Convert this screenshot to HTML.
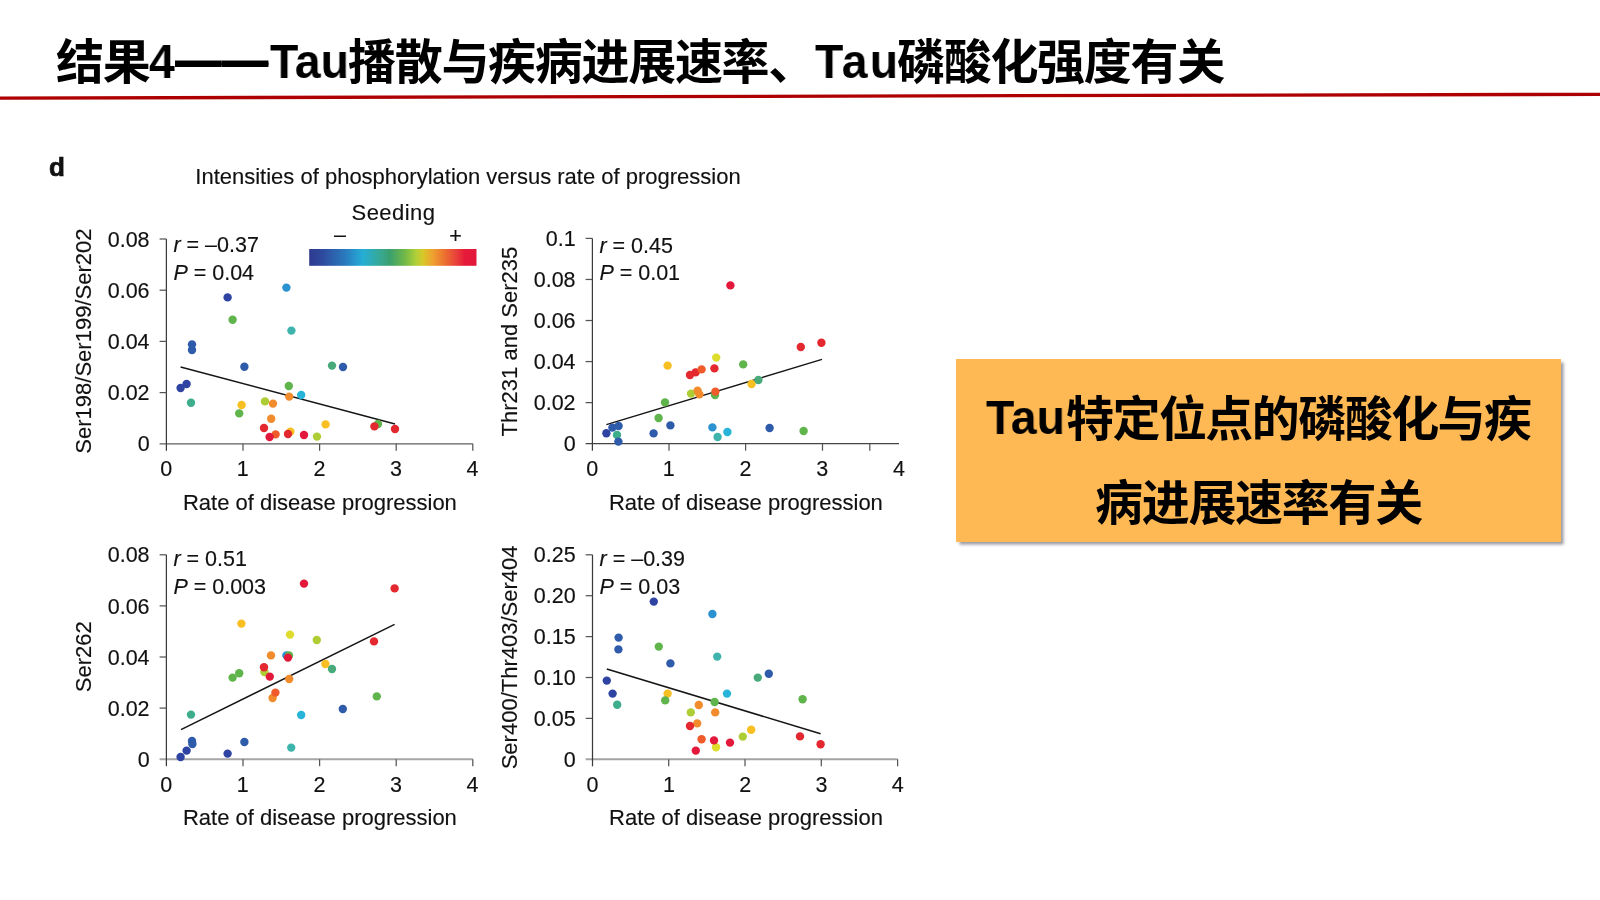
<!DOCTYPE html>
<html><head><meta charset="utf-8">
<style>
html,body{margin:0;padding:0;background:#fff;}
body{width:1600px;height:900px;position:relative;overflow:hidden;}
.title{position:absolute;left:56px;top:28px;font-family:"Liberation Sans","Noto Sans CJK SC",sans-serif;font-weight:bold;font-size:46.7px;line-height:64px;color:#000;white-space:nowrap;letter-spacing:0px;}
.cj{font-size:48px!important;letter-spacing:-1.3px;top:31px!important;}
.lt{font-size:48px!important;transform:scaleX(0.965);transform-origin:0 0;top:29.5px!important;}
svg{position:absolute;left:0;top:0;will-change:transform;}
.title{will-change:transform;}
.box{position:absolute;left:956px;top:359px;width:605px;height:183px;background:#ffb954;box-shadow:2.5px 2.5px 3px rgba(80,80,100,0.6);}
.box div{position:absolute;left:0;width:605px;text-align:center;font-family:"Liberation Sans","Noto Sans CJK SC",sans-serif;font-weight:bold;font-size:46.5px;color:#000;white-space:nowrap;}
</style></head><body>
<div class="title cj" style="left:56px">结果</div><div class="title lt" style="left:149px">4</div><div class="title" style="left:175.3px;top:27px;font-size:46.7px;text-shadow:0 1.6px 0 #000">——</div><div class="title lt" style="left:269.5px">Tau</div><div class="title cj" style="left:347.5px">播散与疾病进展速率、</div><div class="title lt" style="left:815px;letter-spacing:2.1px">Tau</div><div class="title cj" style="left:896.5px">磷酸化强度有关</div>
<svg width="1600" height="900" viewBox="0 0 1600 900">
<defs>
<linearGradient id="cb" x1="0" x2="1" y1="0" y2="0">
<stop offset="0" stop-color="#2e3a8e"/><stop offset="0.08" stop-color="#2e4a9e"/><stop offset="0.22" stop-color="#2a7cc0"/>
<stop offset="0.32" stop-color="#25aed6"/><stop offset="0.43" stop-color="#38a890"/><stop offset="0.48" stop-color="#3aa070"/>
<stop offset="0.57" stop-color="#70b848"/><stop offset="0.64" stop-color="#b0d038"/><stop offset="0.68" stop-color="#d8c828"/>
<stop offset="0.74" stop-color="#eea030"/><stop offset="0.81" stop-color="#ec7030"/><stop offset="0.88" stop-color="#e8403a"/>
<stop offset="0.93" stop-color="#e61a3a"/><stop offset="1" stop-color="#e0183a"/>
</linearGradient>
</defs>
<path d="M0 98.1L1600 94.3" stroke="#ae0000" stroke-width="3.3"/>
<g font-family="Liberation Sans, Arial, sans-serif" font-size="21.5" fill="#111" stroke="#111" stroke-width="0.15">
<text x="49" y="176.2" font-weight="bold" font-size="26" stroke-width="0.7">d</text>
<text x="468" y="184.4" text-anchor="middle" font-size="22">Intensities of phosphorylation versus rate of progression</text>
<text x="393.5" y="219.8" text-anchor="middle" font-size="22" letter-spacing="0.45">Seeding</text>
<text x="340" y="242" text-anchor="middle">&#8211;</text>
<text x="455.5" y="243" text-anchor="middle">+</text>
<rect x="309.2" y="249" width="167.3" height="16.8" fill="url(#cb)" stroke="none"/>
<path d="M180.6 367L395 424" stroke="#151515" stroke-width="1.5"/>
<path d="M159.6 443.8H472.79999999999995" stroke="#5e5e5e" stroke-width="1.3" fill="none"/>
<path d="M166.4 239V450.8" stroke="#3a3a3a" stroke-width="1.25" fill="none"/>
<path d="M159.6 239.0H166.4" stroke="#555" stroke-width="1.25"/>
<text x="149.6" y="246.6" text-anchor="end">0.08</text>
<path d="M159.6 290.2H166.4" stroke="#555" stroke-width="1.25"/>
<text x="149.6" y="297.8" text-anchor="end">0.06</text>
<path d="M159.6 341.4H166.4" stroke="#555" stroke-width="1.25"/>
<text x="149.6" y="349.0" text-anchor="end">0.04</text>
<path d="M159.6 392.6H166.4" stroke="#555" stroke-width="1.25"/>
<text x="149.6" y="400.20000000000005" text-anchor="end">0.02</text>
<text x="149.6" y="451.40000000000003" text-anchor="end">0</text>
<path d="M243.0 443.8V450.8" stroke="#555" stroke-width="1.25"/>
<path d="M319.6 443.8V450.8" stroke="#555" stroke-width="1.25"/>
<path d="M396.2 443.8V450.8" stroke="#555" stroke-width="1.25"/>
<path d="M472.8 443.8V450.8" stroke="#555" stroke-width="1.25"/>
<text x="166.2" y="476.3" text-anchor="middle">0</text>
<text x="242.8" y="476.3" text-anchor="middle">1</text>
<text x="319.4" y="476.3" text-anchor="middle">2</text>
<text x="396.0" y="476.3" text-anchor="middle">3</text>
<text x="472.6" y="476.3" text-anchor="middle">4</text>
<text x="319.9" y="509.5" text-anchor="middle" font-size="22">Rate of disease progression</text>
<text transform="translate(90.5 341.1) rotate(-90)" text-anchor="middle" font-size="22">Ser198/Ser199/Ser202</text>
<text x="173.4" y="252.3"><tspan font-style="italic">r</tspan> = &#8211;0.37</text>
<text x="173.4" y="280.2"><tspan font-style="italic">P</tspan> = 0.04</text>
<circle cx="286.4" cy="287.6" r="4.2" fill="#2a92d0" stroke="none"/>
<circle cx="227.6" cy="297.4" r="4.2" fill="#2f43a2" stroke="none"/>
<circle cx="232.6" cy="319.8" r="4.2" fill="#5fb44b" stroke="none"/>
<circle cx="291.4" cy="330.6" r="4.2" fill="#3fb4ad" stroke="none"/>
<circle cx="192" cy="344.4" r="4.2" fill="#2f5bab" stroke="none"/>
<circle cx="192" cy="350" r="4.2" fill="#2f5bab" stroke="none"/>
<circle cx="244.4" cy="366.8" r="4.2" fill="#2f5bab" stroke="none"/>
<circle cx="332" cy="365.6" r="4.2" fill="#48aa7a" stroke="none"/>
<circle cx="343" cy="367" r="4.2" fill="#2f5bab" stroke="none"/>
<circle cx="186.6" cy="384" r="4.2" fill="#2f43a2" stroke="none"/>
<circle cx="180.6" cy="388" r="4.2" fill="#2f43a2" stroke="none"/>
<circle cx="288.8" cy="386" r="4.2" fill="#5fb44b" stroke="none"/>
<circle cx="301.2" cy="395" r="4.2" fill="#27b4d8" stroke="none"/>
<circle cx="289.2" cy="396.6" r="4.2" fill="#f28b2c" stroke="none"/>
<circle cx="191" cy="402.8" r="4.2" fill="#3dad8c" stroke="none"/>
<circle cx="241.6" cy="405" r="4.2" fill="#f7bf22" stroke="none"/>
<circle cx="265" cy="401.4" r="4.2" fill="#aecd35" stroke="none"/>
<circle cx="273" cy="403.6" r="4.2" fill="#f28b2c" stroke="none"/>
<circle cx="239.2" cy="413.4" r="4.2" fill="#5fb44b" stroke="none"/>
<circle cx="271.2" cy="418.8" r="4.2" fill="#f28b2c" stroke="none"/>
<circle cx="264" cy="428" r="4.2" fill="#e4282f" stroke="none"/>
<circle cx="290.4" cy="431.6" r="4.2" fill="#f7bf22" stroke="none"/>
<circle cx="288" cy="434" r="4.2" fill="#e4282f" stroke="none"/>
<circle cx="275.6" cy="434.4" r="4.2" fill="#ef5b2b" stroke="none"/>
<circle cx="269.6" cy="437" r="4.2" fill="#e2193b" stroke="none"/>
<circle cx="304" cy="435" r="4.2" fill="#e2193b" stroke="none"/>
<circle cx="317" cy="436.6" r="4.2" fill="#aecd35" stroke="none"/>
<circle cx="325.6" cy="424.4" r="4.2" fill="#f7bf22" stroke="none"/>
<circle cx="378" cy="424" r="4.2" fill="#5fb44b" stroke="none"/>
<circle cx="374.4" cy="426.4" r="4.2" fill="#e4282f" stroke="none"/>
<circle cx="395" cy="429" r="4.2" fill="#e4282f" stroke="none"/>
<path d="M606.4 424.6L822 359.4" stroke="#151515" stroke-width="1.5"/>
<path d="M585.6 443.7H899.0" stroke="#444444" stroke-width="1.3" fill="none"/>
<path d="M592.4 238.4V450.7" stroke="#3a3a3a" stroke-width="1.25" fill="none"/>
<path d="M585.6 238.4H592.4" stroke="#555" stroke-width="1.25"/>
<text x="575.6" y="246.0" text-anchor="end">0.1</text>
<path d="M585.6 279.46000000000004H592.4" stroke="#555" stroke-width="1.25"/>
<text x="575.6" y="287.06000000000006" text-anchor="end">0.08</text>
<path d="M585.6 320.52H592.4" stroke="#555" stroke-width="1.25"/>
<text x="575.6" y="328.12" text-anchor="end">0.06</text>
<path d="M585.6 361.58000000000004H592.4" stroke="#555" stroke-width="1.25"/>
<text x="575.6" y="369.18000000000006" text-anchor="end">0.04</text>
<path d="M585.6 402.64H592.4" stroke="#555" stroke-width="1.25"/>
<text x="575.6" y="410.24" text-anchor="end">0.02</text>
<text x="575.6" y="451.30000000000007" text-anchor="end">0</text>
<path d="M669.0 443.7V450.7" stroke="#555" stroke-width="1.25"/>
<path d="M745.6 443.7V450.7" stroke="#555" stroke-width="1.25"/>
<path d="M822.5 443.7V450.7" stroke="#555" stroke-width="1.25"/>
<path d="M869.8 443.7V450.7" stroke="#555" stroke-width="1.25"/>
<text x="592.2" y="476.2" text-anchor="middle">0</text>
<text x="668.8" y="476.2" text-anchor="middle">1</text>
<text x="745.4" y="476.2" text-anchor="middle">2</text>
<text x="822.2" y="476.2" text-anchor="middle">3</text>
<text x="899.0" y="476.2" text-anchor="middle">4</text>
<text x="745.9" y="509.5" text-anchor="middle" font-size="22">Rate of disease progression</text>
<text transform="translate(516.5 341.6) rotate(-90)" text-anchor="middle" font-size="22">Thr231 and Ser235</text>
<text x="599.4" y="252.5"><tspan font-style="italic">r</tspan> = 0.45</text>
<text x="599.4" y="280.3"><tspan font-style="italic">P</tspan> = 0.01</text>
<circle cx="730.4" cy="285.4" r="4.2" fill="#e2193b" stroke="none"/>
<circle cx="821.4" cy="342.8" r="4.2" fill="#e4282f" stroke="none"/>
<circle cx="800.8" cy="347" r="4.2" fill="#e4282f" stroke="none"/>
<circle cx="716.2" cy="357.6" r="4.2" fill="#dedc2c" stroke="none"/>
<circle cx="743.2" cy="364.4" r="4.2" fill="#5fb44b" stroke="none"/>
<circle cx="667.6" cy="365.6" r="4.2" fill="#f7bf22" stroke="none"/>
<circle cx="690" cy="375" r="4.2" fill="#e4282f" stroke="none"/>
<circle cx="695.6" cy="372.4" r="4.2" fill="#e4282f" stroke="none"/>
<circle cx="701.6" cy="369.4" r="4.2" fill="#ef5b2b" stroke="none"/>
<circle cx="714.4" cy="368.4" r="4.2" fill="#e4282f" stroke="none"/>
<circle cx="751.6" cy="384" r="4.2" fill="#f7bf22" stroke="none"/>
<circle cx="758.4" cy="380" r="4.2" fill="#48aa7a" stroke="none"/>
<circle cx="691" cy="393.6" r="4.2" fill="#aecd35" stroke="none"/>
<circle cx="699.4" cy="394.4" r="4.2" fill="#f28b2c" stroke="none"/>
<circle cx="697.6" cy="390.6" r="4.2" fill="#f28b2c" stroke="none"/>
<circle cx="715" cy="395" r="4.2" fill="#5fb44b" stroke="none"/>
<circle cx="715.4" cy="391.6" r="4.2" fill="#ef5b2b" stroke="none"/>
<circle cx="665" cy="402.4" r="4.2" fill="#5fb44b" stroke="none"/>
<circle cx="658.6" cy="418" r="4.2" fill="#5fb44b" stroke="none"/>
<circle cx="670.4" cy="425.4" r="4.2" fill="#2f5bab" stroke="none"/>
<circle cx="606.4" cy="433.2" r="4.2" fill="#2f43a2" stroke="none"/>
<circle cx="612.4" cy="427.6" r="4.2" fill="#2f5bab" stroke="none"/>
<circle cx="618.6" cy="426" r="4.2" fill="#2f5bab" stroke="none"/>
<circle cx="617" cy="435" r="4.2" fill="#3dad8c" stroke="none"/>
<circle cx="618.4" cy="441.6" r="4.2" fill="#2f5bab" stroke="none"/>
<circle cx="653.6" cy="433.4" r="4.2" fill="#2f5bab" stroke="none"/>
<circle cx="712.4" cy="427.4" r="4.2" fill="#2a92d0" stroke="none"/>
<circle cx="727.4" cy="432" r="4.2" fill="#27b4d8" stroke="none"/>
<circle cx="717.6" cy="437" r="4.2" fill="#3fb4ad" stroke="none"/>
<circle cx="769.6" cy="428" r="4.2" fill="#2f5bab" stroke="none"/>
<circle cx="803.6" cy="431" r="4.2" fill="#5fb44b" stroke="none"/>
<path d="M181 729.6L394.6 624.4" stroke="#151515" stroke-width="1.5"/>
<path d="M159.6 759.2H472.79999999999995" stroke="#a6a6a6" stroke-width="2.0" fill="none"/>
<path d="M166.4 554.8V766.2" stroke="#3a3a3a" stroke-width="1.25" fill="none"/>
<path d="M159.6 554.8H166.4" stroke="#555" stroke-width="1.25"/>
<text x="149.6" y="562.4" text-anchor="end">0.08</text>
<path d="M159.6 605.9H166.4" stroke="#555" stroke-width="1.25"/>
<text x="149.6" y="613.5" text-anchor="end">0.06</text>
<path d="M159.6 657.0H166.4" stroke="#555" stroke-width="1.25"/>
<text x="149.6" y="664.6" text-anchor="end">0.04</text>
<path d="M159.6 708.0999999999999H166.4" stroke="#555" stroke-width="1.25"/>
<text x="149.6" y="715.6999999999999" text-anchor="end">0.02</text>
<text x="149.6" y="766.8" text-anchor="end">0</text>
<path d="M243.0 759.2V766.2" stroke="#555" stroke-width="1.25"/>
<path d="M319.6 759.2V766.2" stroke="#555" stroke-width="1.25"/>
<path d="M396.2 759.2V766.2" stroke="#555" stroke-width="1.25"/>
<path d="M472.8 759.2V766.2" stroke="#555" stroke-width="1.25"/>
<text x="166.2" y="791.7" text-anchor="middle">0</text>
<text x="242.8" y="791.7" text-anchor="middle">1</text>
<text x="319.4" y="791.7" text-anchor="middle">2</text>
<text x="396.0" y="791.7" text-anchor="middle">3</text>
<text x="472.6" y="791.7" text-anchor="middle">4</text>
<text x="319.9" y="824.5" text-anchor="middle" font-size="22">Rate of disease progression</text>
<text transform="translate(90.5 656.7) rotate(-90)" text-anchor="middle" font-size="22">Ser262</text>
<text x="173.4" y="565.6"><tspan font-style="italic">r</tspan> = 0.51</text>
<text x="173.4" y="593.8"><tspan font-style="italic">P</tspan> = 0.003</text>
<circle cx="304" cy="583.6" r="4.2" fill="#e2193b" stroke="none"/>
<circle cx="394.6" cy="588.4" r="4.2" fill="#e4282f" stroke="none"/>
<circle cx="241.4" cy="623.6" r="4.2" fill="#f7bf22" stroke="none"/>
<circle cx="290" cy="634.6" r="4.2" fill="#dedc2c" stroke="none"/>
<circle cx="316.8" cy="640" r="4.2" fill="#aecd35" stroke="none"/>
<circle cx="374" cy="641.4" r="4.2" fill="#e4282f" stroke="none"/>
<circle cx="271" cy="655.4" r="4.2" fill="#f28b2c" stroke="none"/>
<circle cx="286.4" cy="655.4" r="4.2" fill="#2a92d0" stroke="none"/>
<circle cx="289" cy="655.4" r="4.2" fill="#5fb44b" stroke="none"/>
<circle cx="288" cy="657.6" r="4.2" fill="#e2193b" stroke="none"/>
<circle cx="325.4" cy="664" r="4.2" fill="#f7bf22" stroke="none"/>
<circle cx="332" cy="669" r="4.2" fill="#48aa7a" stroke="none"/>
<circle cx="264.4" cy="672" r="4.2" fill="#aecd35" stroke="none"/>
<circle cx="264" cy="667.2" r="4.2" fill="#e4282f" stroke="none"/>
<circle cx="269.8" cy="676.6" r="4.2" fill="#e2193b" stroke="none"/>
<circle cx="239.2" cy="673.2" r="4.2" fill="#5fb44b" stroke="none"/>
<circle cx="232.6" cy="677.6" r="4.2" fill="#5fb44b" stroke="none"/>
<circle cx="289.2" cy="679" r="4.2" fill="#f28b2c" stroke="none"/>
<circle cx="272.6" cy="698" r="4.2" fill="#f28b2c" stroke="none"/>
<circle cx="275.4" cy="692.6" r="4.2" fill="#ef5b2b" stroke="none"/>
<circle cx="376.8" cy="696.4" r="4.2" fill="#5fb44b" stroke="none"/>
<circle cx="342.8" cy="709" r="4.2" fill="#2f5bab" stroke="none"/>
<circle cx="191" cy="714.6" r="4.2" fill="#3dad8c" stroke="none"/>
<circle cx="301.2" cy="715" r="4.2" fill="#27b4d8" stroke="none"/>
<circle cx="192" cy="741" r="4.2" fill="#2f5bab" stroke="none"/>
<circle cx="192.4" cy="744" r="4.2" fill="#2f5bab" stroke="none"/>
<circle cx="244.4" cy="742" r="4.2" fill="#2f5bab" stroke="none"/>
<circle cx="291.2" cy="747.6" r="4.2" fill="#3fb4ad" stroke="none"/>
<circle cx="186.6" cy="750.6" r="4.2" fill="#2f43a2" stroke="none"/>
<circle cx="180.6" cy="757" r="4.2" fill="#2f43a2" stroke="none"/>
<circle cx="227.6" cy="753.6" r="4.2" fill="#2f43a2" stroke="none"/>
<path d="M606.8 669L820.6 733.8" stroke="#151515" stroke-width="1.5"/>
<path d="M585.7 759.3H897.6" stroke="#a3a3a3" stroke-width="2.0" fill="none"/>
<path d="M592.5 554.8V766.3" stroke="#3a3a3a" stroke-width="1.25" fill="none"/>
<path d="M585.7 554.8H592.5" stroke="#555" stroke-width="1.25"/>
<text x="575.7" y="562.4" text-anchor="end">0.25</text>
<path d="M585.7 595.6999999999999H592.5" stroke="#555" stroke-width="1.25"/>
<text x="575.7" y="603.3" text-anchor="end">0.20</text>
<path d="M585.7 636.5999999999999H592.5" stroke="#555" stroke-width="1.25"/>
<text x="575.7" y="644.1999999999999" text-anchor="end">0.15</text>
<path d="M585.7 677.5H592.5" stroke="#555" stroke-width="1.25"/>
<text x="575.7" y="685.1" text-anchor="end">0.10</text>
<path d="M585.7 718.4H592.5" stroke="#555" stroke-width="1.25"/>
<text x="575.7" y="726.0" text-anchor="end">0.05</text>
<text x="575.7" y="766.9" text-anchor="end">0</text>
<path d="M668.7 759.3V766.3" stroke="#555" stroke-width="1.25"/>
<path d="M745.0 759.3V766.3" stroke="#555" stroke-width="1.25"/>
<path d="M821.3 759.3V766.3" stroke="#555" stroke-width="1.25"/>
<path d="M897.6 759.3V766.3" stroke="#555" stroke-width="1.25"/>
<text x="592.6" y="791.8" text-anchor="middle">0</text>
<text x="668.9" y="791.8" text-anchor="middle">1</text>
<text x="745.2" y="791.8" text-anchor="middle">2</text>
<text x="821.5" y="791.8" text-anchor="middle">3</text>
<text x="897.8" y="791.8" text-anchor="middle">4</text>
<text x="746.0" y="824.5" text-anchor="middle" font-size="22">Rate of disease progression</text>
<text transform="translate(516.5 657.4) rotate(-90)" text-anchor="middle" font-size="22">Ser400/Thr403/Ser404</text>
<text x="599.5" y="565.6"><tspan font-style="italic">r</tspan> = &#8211;0.39</text>
<text x="599.5" y="593.9"><tspan font-style="italic">P</tspan> = 0.03</text>
<circle cx="653.8" cy="601.6" r="4.2" fill="#2f43a2" stroke="none"/>
<circle cx="712.4" cy="614" r="4.2" fill="#2a92d0" stroke="none"/>
<circle cx="618.6" cy="637.6" r="4.2" fill="#2f5bab" stroke="none"/>
<circle cx="618.4" cy="649.4" r="4.2" fill="#2f5bab" stroke="none"/>
<circle cx="658.8" cy="646.6" r="4.2" fill="#5fb44b" stroke="none"/>
<circle cx="717.2" cy="656.6" r="4.2" fill="#3fb4ad" stroke="none"/>
<circle cx="670.4" cy="663.4" r="4.2" fill="#2f5bab" stroke="none"/>
<circle cx="768.8" cy="673.8" r="4.2" fill="#2f5bab" stroke="none"/>
<circle cx="757.8" cy="677.6" r="4.2" fill="#48aa7a" stroke="none"/>
<circle cx="606.8" cy="680.6" r="4.2" fill="#2f43a2" stroke="none"/>
<circle cx="612.6" cy="693.6" r="4.2" fill="#2f43a2" stroke="none"/>
<circle cx="667.6" cy="693.6" r="4.2" fill="#f7bf22" stroke="none"/>
<circle cx="727" cy="693.6" r="4.2" fill="#27b4d8" stroke="none"/>
<circle cx="665.2" cy="700.4" r="4.2" fill="#5fb44b" stroke="none"/>
<circle cx="714.6" cy="702" r="4.2" fill="#5fb44b" stroke="none"/>
<circle cx="802.6" cy="699.2" r="4.2" fill="#5fb44b" stroke="none"/>
<circle cx="617.2" cy="704.8" r="4.2" fill="#3dad8c" stroke="none"/>
<circle cx="698.8" cy="705" r="4.2" fill="#f28b2c" stroke="none"/>
<circle cx="690.8" cy="712.4" r="4.2" fill="#aecd35" stroke="none"/>
<circle cx="715.2" cy="712.4" r="4.2" fill="#f28b2c" stroke="none"/>
<circle cx="697.2" cy="723.4" r="4.2" fill="#f28b2c" stroke="none"/>
<circle cx="690" cy="726" r="4.2" fill="#e4282f" stroke="none"/>
<circle cx="751.2" cy="729.8" r="4.2" fill="#f7bf22" stroke="none"/>
<circle cx="742.8" cy="736.6" r="4.2" fill="#aecd35" stroke="none"/>
<circle cx="800" cy="736.4" r="4.2" fill="#e4282f" stroke="none"/>
<circle cx="820.6" cy="744.2" r="4.2" fill="#e4282f" stroke="none"/>
<circle cx="701.6" cy="739.2" r="4.2" fill="#ef5b2b" stroke="none"/>
<circle cx="716" cy="747.2" r="4.2" fill="#dedc2c" stroke="none"/>
<circle cx="714" cy="740.4" r="4.2" fill="#e2193b" stroke="none"/>
<circle cx="730" cy="742.6" r="4.2" fill="#e2193b" stroke="none"/>
<circle cx="695.8" cy="750.6" r="4.2" fill="#e2193b" stroke="none"/>
</g>
</svg>
<div class="box"></div>
<div class="title lt" style="left:986.3px;top:385.9px!important">Tau</div>
<div class="title cj" style="left:1066px;top:388.4px!important;letter-spacing:-1.55px">特定位点的磷酸化与疾</div>
<div class="title cj" style="left:1094.7px;top:472px!important">病进展速率有关</div>
</body></html>
